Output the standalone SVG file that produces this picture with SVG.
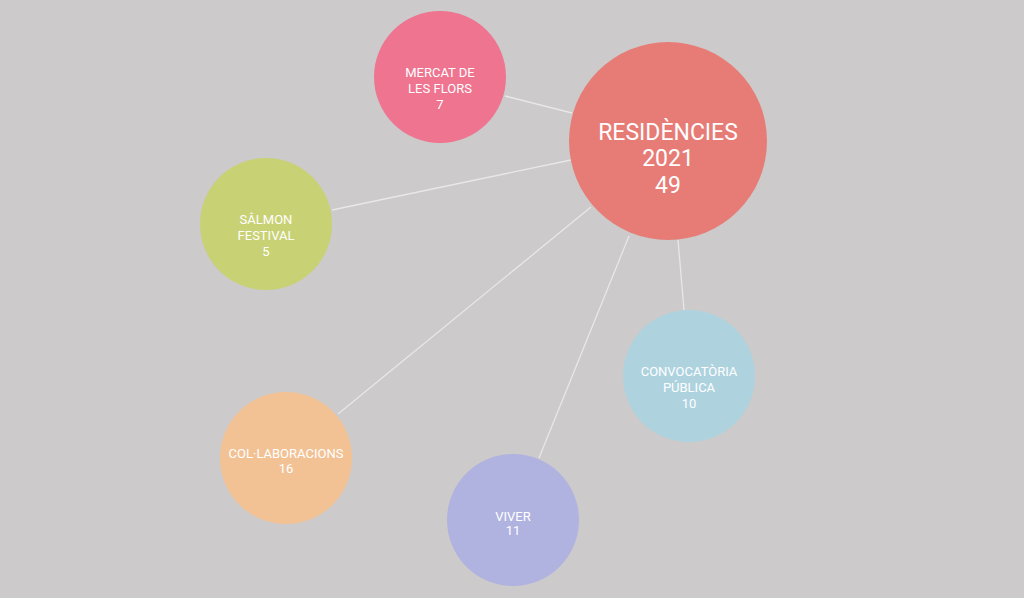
<svg xmlns="http://www.w3.org/2000/svg" width="1024" height="598" viewBox="0 0 1024 598">
<style>
text{font-family:Roboto,"Liberation Sans",sans-serif;fill:#fff;text-anchor:middle}
.s{font-size:13px}
.b{font-size:23px}
#links line{stroke:#e8e8e8;stroke-width:1.3}
</style>
<rect width="1024" height="598" fill="#cccaca"/>
<g id="links">
<line x1="505" y1="96" x2="572" y2="113"/>
<line x1="332" y1="210" x2="571" y2="160"/>
<line x1="338" y1="414" x2="591" y2="207"/>
<line x1="539" y1="458" x2="629" y2="236"/>
<line x1="684" y1="310" x2="678" y2="240"/>
</g>
<g id="residencies"><circle cx="668" cy="141" r="99" fill="#e77c76"/>
<text class="b" x="668" y="140">RESIDÈNCIES</text><text class="b" x="668" y="166">2021</text><text class="b" x="668" y="193">49</text></g>
<g id="mercat"><circle cx="440" cy="77" r="66" fill="#ee7490"/>
<text class="s" x="440" y="77">MERCAT DE</text><text class="s" x="440" y="93">LES FLORS</text><text class="s" x="440" y="109">7</text></g>
<g id="salmon"><circle cx="266" cy="224" r="66" fill="#c8d174"/>
<text class="s" x="266" y="224">SÂLMON</text><text class="s" x="266" y="240">FESTIVAL</text><text class="s" x="266" y="256">5</text></g>
<g id="convocatoria"><circle cx="689" cy="376" r="66" fill="#aed3df"/>
<text class="s" x="689" y="376">CONVOCATÒRIA</text><text class="s" x="689" y="392">PÚBLICA</text><text class="s" x="689" y="408">10</text></g>
<g id="collaboracions"><circle cx="286" cy="458" r="66" fill="#f2c295"/>
<text class="s" x="286" y="458">COL·LABORACIONS</text><text class="s" x="286" y="473">16</text></g>
<g id="viver"><circle cx="513" cy="520" r="66" fill="#b0b3e0"/>
<text class="s" x="513" y="521">VIVER</text><text class="s" x="513" y="535">11</text></g>
</svg>
